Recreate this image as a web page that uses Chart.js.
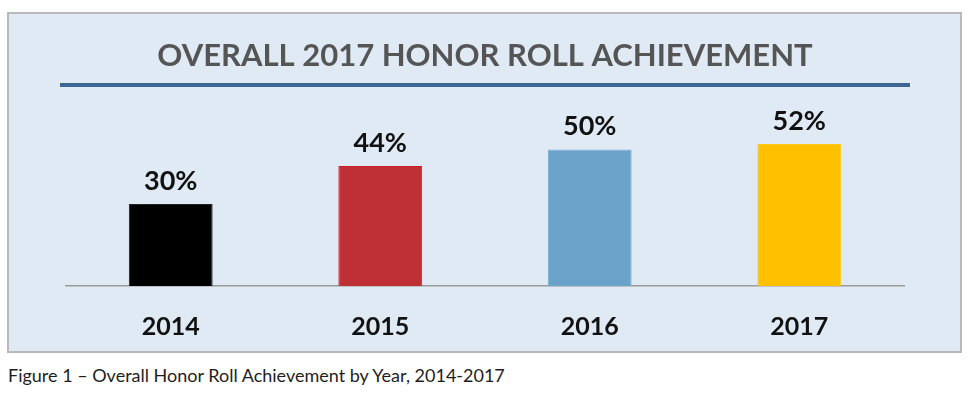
<!DOCTYPE html>
<html>
<head>
<meta charset="utf-8">
<script src="https://cdn.jsdelivr.net/npm/chart.js@4"></script>
<style>
  html, body { margin: 0; padding: 0; background: #fff; }
  body { width: 976px; height: 395px; position: relative; overflow: hidden; }
  #box {
    position: absolute; left: 7px; top: 12px; width: 955px; height: 341px;
    box-sizing: border-box; border: 2px solid #b9b9b9; background: #e0eaf4;
  }
  #box canvas { display: block; }
  #caption {
    position: absolute; left: 8px; top: 364px;
    font-family: Lato, sans-serif; font-size: 18px; color: #1e1e1e;
    white-space: nowrap;
  }
</style>
</head>
<body>
<div id="box"><canvas id="honorChart" width="951" height="337"></canvas></div>
<div id="caption">Figure 1 – Overall Honor Roll Achievement by Year, 2014-2017</div>

<script>
// Daten
const years = ['2014', '2015', '2016', '2017'];
const percentages = [30, 44, 50, 52];
const barColors = ['#000000', '#be3035', '#6aa2ca', '#ffc000'];
const barBorders = ['#222222', '#cc1f26', '#78aed3', '#ffc81a'];

// Prozentwerte über den Balken
const valueLabels = {
  id: 'valueLabels',
  afterDatasetsDraw(chart) {
    const ctx = chart.ctx;
    const meta = chart.getDatasetMeta(0);
    ctx.save();
    ctx.font = 'bold 27px Lato, sans-serif';
    ctx.fillStyle = '#111';
    ctx.textAlign = 'center';
    ctx.textBaseline = 'middle';
    meta.data.forEach((bar, i) => {
      ctx.fillText(percentages[i] + '%', bar.x, bar.y - 23);
    });
    ctx.restore();
  }
};

// blaue Linie unter dem Titel
const titleRule = {
  id: 'titleRule',
  afterDraw(chart) {
    const ctx = chart.ctx;
    const area = chart.chartArea;
    ctx.save();
    ctx.fillStyle = '#3d6792';
    ctx.fillRect(area.left - 6, 69, area.right - area.left + 12, 4);
    ctx.restore();
  }
};

new Chart(document.querySelector('#honorChart'), {
  type: 'bar',
  data: {
    labels: years,
    datasets: [{
      data: percentages,
      backgroundColor: barColors,
      borderColor: barBorders,
      borderWidth: 1,
      categoryPercentage: 1,
      barPercentage: 0.4
    }]
  },
  options: {
    responsive: false,
    animation: false,
    layout: { padding: { left: 57, right: 56, top: 0, bottom: -17 } },
    scales: {
      x: {
        grid: { display: false, drawTicks: false },
        border: { display: true, color: '#9a9a9a', width: 1.5 },
        ticks: {
          color: '#111',
          padding: 26,
          font: { family: 'Lato, sans-serif', size: 25, weight: 'bold' }
        }
      },
      y: {
        display: false,
        min: 0,
        max: 60
      }
    },
    plugins: {
      legend: { display: false },
      tooltip: { enabled: false },
      title: {
        display: true,
        text: 'OVERALL 2017 HONOR ROLL ACHIEVEMENT',
        color: '#555555',
        font: { family: 'Lato, sans-serif', size: 31, weight: 'bold', lineHeight: 1.2 },
        padding: { top: 23, bottom: 48 }
      }
    }
  },
  plugins: [valueLabels, titleRule]
});
</script>
</body>
</html>
